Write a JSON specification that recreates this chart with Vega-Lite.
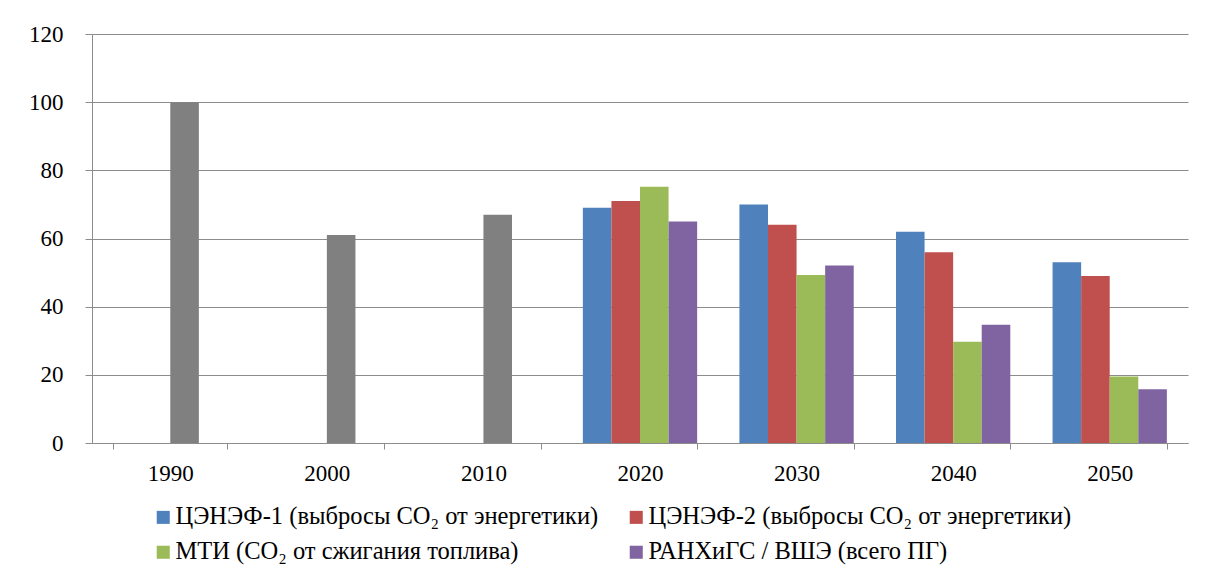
{
  "$schema": "https://vega.github.io/schema/vega-lite/v6.json",
  "width": 1096,
  "height": 409,
  "autosize": {"type": "none"},
  "padding": {"left": 92, "top": 34, "right": 21, "bottom": 138},
  "background": "white",
  "data": {
    "values": [
      {"year": "1990", "series": "МТИ (CO₂ от сжигания топлива)", "group": "Факт", "value": 100},
      {"year": "2000", "series": "МТИ (CO₂ от сжигания топлива)", "group": "Факт", "value": 61},
      {"year": "2010", "series": "МТИ (CO₂ от сжигания топлива)", "group": "Факт", "value": 67},
      {"year": "2020", "series": "ЦЭНЭФ-1  (выбросы CO₂ от энергетики)", "group": "ЦЭНЭФ-1  (выбросы CO₂ от энергетики)", "value": 69},
      {"year": "2020", "series": "ЦЭНЭФ-2  (выбросы CO₂ от энергетики)", "group": "ЦЭНЭФ-2  (выбросы CO₂ от энергетики)", "value": 71},
      {"year": "2020", "series": "МТИ (CO₂ от сжигания топлива)", "group": "МТИ (CO₂ от сжигания топлива)", "value": 75.2},
      {"year": "2020", "series": "РАНХиГС / ВШЭ (всего ПГ)", "group": "РАНХиГС / ВШЭ (всего ПГ)", "value": 65},
      {"year": "2030", "series": "ЦЭНЭФ-1  (выбросы CO₂ от энергетики)", "group": "ЦЭНЭФ-1  (выбросы CO₂ от энергетики)", "value": 70},
      {"year": "2030", "series": "ЦЭНЭФ-2  (выбросы CO₂ от энергетики)", "group": "ЦЭНЭФ-2  (выбросы CO₂ от энергетики)", "value": 64},
      {"year": "2030", "series": "МТИ (CO₂ от сжигания топлива)", "group": "МТИ (CO₂ от сжигания топлива)", "value": 49.3},
      {"year": "2030", "series": "РАНХиГС / ВШЭ (всего ПГ)", "group": "РАНХиГС / ВШЭ (всего ПГ)", "value": 52.1},
      {"year": "2040", "series": "ЦЭНЭФ-1  (выбросы CO₂ от энергетики)", "group": "ЦЭНЭФ-1  (выбросы CO₂ от энергетики)", "value": 62},
      {"year": "2040", "series": "ЦЭНЭФ-2  (выбросы CO₂ от энергетики)", "group": "ЦЭНЭФ-2  (выбросы CO₂ от энергетики)", "value": 56},
      {"year": "2040", "series": "МТИ (CO₂ от сжигания топлива)", "group": "МТИ (CO₂ от сжигания топлива)", "value": 29.7},
      {"year": "2040", "series": "РАНХиГС / ВШЭ (всего ПГ)", "group": "РАНХиГС / ВШЭ (всего ПГ)", "value": 34.7},
      {"year": "2050", "series": "ЦЭНЭФ-1  (выбросы CO₂ от энергетики)", "group": "ЦЭНЭФ-1  (выбросы CO₂ от энергетики)", "value": 53},
      {"year": "2050", "series": "ЦЭНЭФ-2  (выбросы CO₂ от энергетики)", "group": "ЦЭНЭФ-2  (выбросы CO₂ от энергетики)", "value": 49},
      {"year": "2050", "series": "МТИ (CO₂ от сжигания топлива)", "group": "МТИ (CO₂ от сжигания топлива)", "value": 19.5},
      {"year": "2050", "series": "РАНХиГС / ВШЭ (всего ПГ)", "group": "РАНХиГС / ВШЭ (всего ПГ)", "value": 15.8}
    ]
  },
  "mark": {"type": "bar"},
  "encoding": {
    "x": {
      "field": "year",
      "type": "nominal",
      "sort": null,
      "scale": {"paddingInner": 0.27, "paddingOuter": 0.135},
      "axis": {
        "title": null,
        "labelAngle": 0,
        "tickBand": "extent",
        "tickSize": 6,
        "tickColor": "#8c8c8c",
        "domainColor": "#8c8c8c",
        "labelPadding": 13,
        "labelFont": "'Liberation Serif', serif",
        "labelFontSize": 23,
        "labelColor": "#000",
        "grid": false
      }
    },
    "xOffset": {
      "field": "series",
      "type": "nominal",
      "scale": {
        "domain": [
          "ЦЭНЭФ-1  (выбросы CO₂ от энергетики)",
          "ЦЭНЭФ-2  (выбросы CO₂ от энергетики)",
          "МТИ (CO₂ от сжигания топлива)",
          "РАНХиГС / ВШЭ (всего ПГ)"
        ],
        "paddingInner": 0,
        "paddingOuter": 0
      }
    },
    "y": {
      "field": "value",
      "type": "quantitative",
      "scale": {"domain": [0, 120], "nice": false},
      "axis": {
        "title": null,
        "values": [0, 20, 40, 60, 80, 100, 120],
        "tickSize": 7,
        "tickColor": "#8c8c8c",
        "domainColor": "#8c8c8c",
        "gridColor": "#8c8c8c",
        "gridWidth": 1.2,
        "labelPadding": 22,
        "labelFont": "'Liberation Serif', serif",
        "labelFontSize": 23,
        "labelColor": "#000"
      }
    },
    "color": {
      "field": "group",
      "type": "nominal",
      "scale": {
        "domain": [
          "ЦЭНЭФ-1  (выбросы CO₂ от энергетики)",
          "ЦЭНЭФ-2  (выбросы CO₂ от энергетики)",
          "МТИ (CO₂ от сжигания топлива)",
          "РАНХиГС / ВШЭ (всего ПГ)",
          "Факт"
        ],
        "range": ["#4F81BD", "#C0504D", "#9BBB59", "#8064A2", "#808080"]
      },
      "legend": {
        "title": null,
        "values": [
          "ЦЭНЭФ-1  (выбросы CO₂ от энергетики)",
          "ЦЭНЭФ-2  (выбросы CO₂ от энергетики)",
          "МТИ (CO₂ от сжигания топлива)",
          "РАНХиГС / ВШЭ (всего ПГ)"
        ],
        "orient": "none",
        "direction": "horizontal",
        "legendX": 59,
        "legendY": 471,
        "columns": 2,
        "columnPadding": 19,
        "rowPadding": 10,
        "symbolType": "square",
        "symbolSize": 170,
        "symbolStrokeWidth": 0,
        "labelFontSize": 24.5,
        "labelFont": "'Liberation Serif', serif",
        "labelColor": "#000",
        "labelLimit": 700,
        "labelOffset": 0
      }
    }
  },
  "config": {
    "font": "'Liberation Serif', serif",
    "view": {"stroke": null}
  }
}
